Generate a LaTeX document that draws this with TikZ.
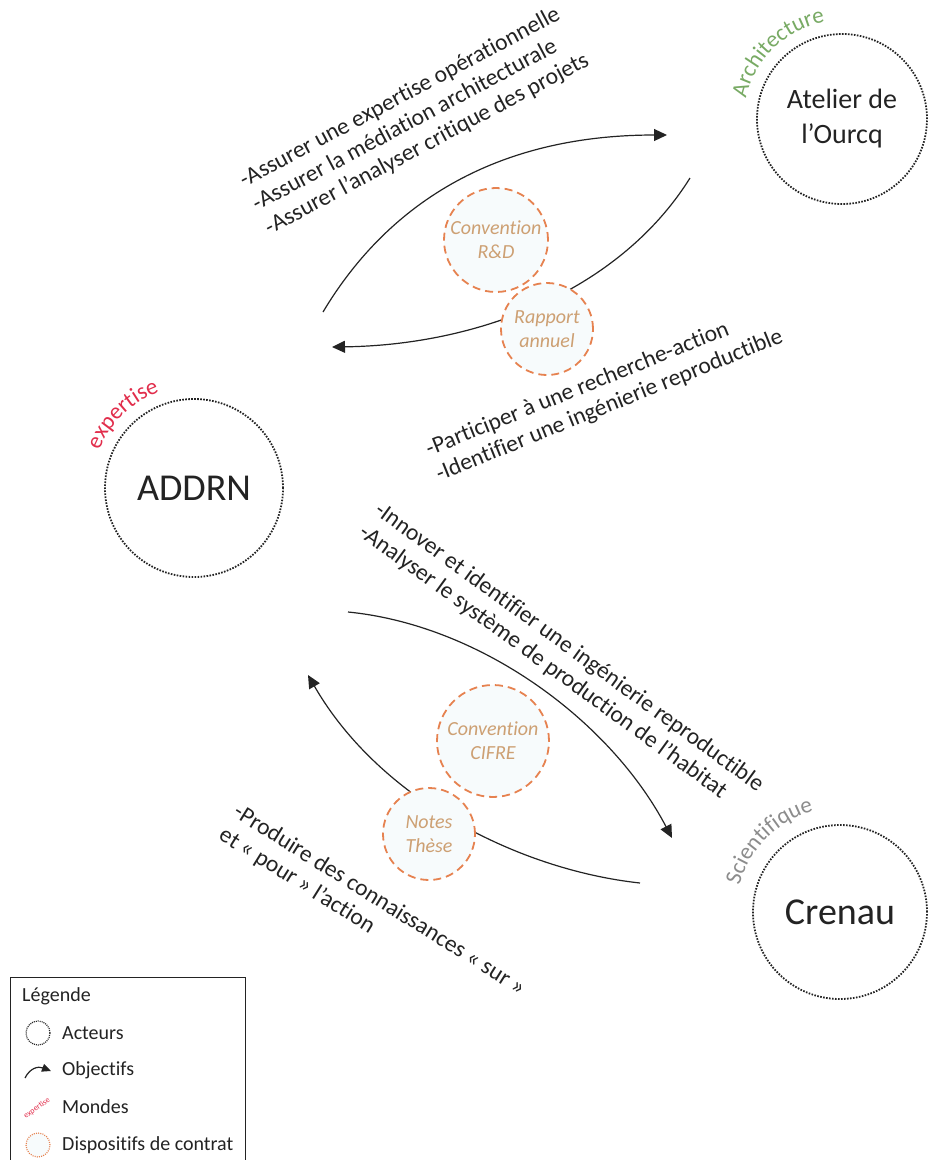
\documentclass[tikz,border=0pt]{standalone}
\usepackage{fontspec}
\setmainfont{Carlito}[Ligatures={NoCommon,NoContextual}]
\usepackage{tikz}
\usetikzlibrary{arrows.meta,decorations.text}
\definecolor{inkdark}{RGB}{35,35,35}
\definecolor{archgreen}{RGB}{120,170,100}
\definecolor{expred}{RGB}{225,45,75}
\definecolor{scigrey}{RGB}{140,140,140}
\definecolor{dispoorange}{RGB}{230,130,80}
\definecolor{dispotext}{RGB}{205,160,115}
\definecolor{dispofill}{RGB}{247,251,252}
\tikzset{
  base/.style={text=inkdark, inner sep=0pt},
  acteur/.style={base, circle, draw=inkdark, line width=1.8pt, dash pattern=on 1.6pt off 1.4pt, align=center},
  dispo/.style={base, circle, draw=dispoorange, fill=dispofill, line width=1.8pt, dash pattern=on 8pt off 5pt, align=center, text=dispotext, font=\fontsize{20}{24}\selectfont\itshape},
  obj/.style={base, align=left, anchor=west, font=\fontsize{23.5}{27}\selectfont},
  arr/.style={-{Triangle[length=13pt,width=12pt]}, line width=1.2pt, draw=inkdark},
  monde/.style n args={2}{decorate, decoration={text along path, text align=center, text color=#1, text={|\fontsize{23}{23}\selectfont|#2}}},
  lgd/.style={base, anchor=west, font=\fontsize{20}{22}\selectfont},
}

\begin{document}
\begin{tikzpicture}[x=1pt,y=1pt]
  \useasboundingbox (0,0) rectangle (927,-1160);

  \node[acteur, minimum size=170pt, font=\fontsize{28}{35}\selectfont] (ourcq) at (842,-119) {Atelier de\\l’Ourcq};
  \node[acteur, minimum size=178pt, font=\fontsize{38}{40}\selectfont] (addrn) at (194,-488) {ADDRN};
  \node[acteur, minimum size=174pt, font=\fontsize{38}{40}\selectfont] (crenau) at (840,-912) {Crenau};

  \path[monde={archgreen}{Architecture}] ([shift={(ourcq.center)}]192:98) arc[start angle=192, end angle=76, radius=98];
  \path[monde={expred}{expertise}] ([shift={(addrn.center)}]190:102) arc[start angle=190, end angle=78, radius=102];
  \path[monde={scigrey}{Scientifique}] ([shift={(crenau.center)}]192:104) arc[start angle=192, end angle=78, radius=104];

  \coordinate (toourcq0) at (323,-312);
  \coordinate (toourcq1) at (667,-135);
  \coordinate (fromourcq0) at (690,-178);
  \coordinate (fromourcq1) at (332,-347);
  \coordinate (tocrenau0) at (348,-612);
  \coordinate (tocrenau1) at (672,-838);
  \coordinate (fromcrenau0) at (640,-883);
  \coordinate (fromcrenau1) at (308,-675);
  \draw[arr] (toourcq0) .. controls (390,-200) and (500,-135) .. (toourcq1);
  \draw[arr] (fromourcq0) .. controls (620,-290) and (480,-345) .. (fromourcq1);
  \draw[arr] (tocrenau0) .. controls (480,-625) and (610,-720) .. (tocrenau1);
  \draw[arr] (fromcrenau0) .. controls (520,-870) and (380,-800) .. (fromcrenau1);

  \node[dispo, minimum size=104pt] (convrd) at (496,-240) {Convention\\R\&D};
  \node[dispo, minimum size=92pt] (rapport) at (547,-329) {Rapport\\annuel};
  \node[dispo, minimum size=112pt] (cifre) at (493,-741) {Convention\\CIFRE};
  \node[dispo, minimum size=92pt] (notes) at (429,-834) {Notes\\Thèse};

  \node[obj, rotate=28] (objourcq) at (254,-206) {-Assurer une expertise opérationnelle\\-Assurer la médiation architecturale\\-Assurer l’analyser critique des projets};
  \node[obj, rotate=22] (objaddrn1) at (432,-463) {-Participer à une recherche-action\\-Identifier une ingénierie reproductible};
  \node[obj, rotate=-36] (objcrenau) at (369,-519) {-Innover et identifier une ingénierie reproductible\\-Analyser le système de production de l’habitat};
  \node[obj, rotate=-32] (objaddrn2) at (228,-822) {-Produire des connaissances « sur »\\et « pour » l’action};

  \draw[line width=0.8pt, draw=inkdark] (10,-977) rectangle (245,-1170);
  \node[lgd] (lgdtitle) at (22,-996) {Légende};
  \node[acteur, minimum size=24pt, line width=1.2pt, dash pattern=on 1pt off 1pt] (lgdact) at (38,-1033) {};
  \node[lgd] (lgdacttxt) at (62,-1033) {Acteurs};
  \coordinate (lgdobj0) at (25,-1078);
  \coordinate (lgdobj1) at (51,-1071);
  \draw[arr, -{Triangle[length=9pt,width=8pt]}] (lgdobj0) .. controls (30,-1068) and (38,-1066) .. (lgdobj1);
  \node[lgd] (lgdobjtxt) at (62,-1070) {Objectifs};
  \node[base, text=expred, rotate=35, font=\fontsize{8}{8}\selectfont] (lgdmonde) at (37,-1108) {expertise};
  \node[lgd] (lgdmondetxt) at (62,-1107) {Mondes};
  \node[dispo, minimum size=24pt, line width=1.2pt, dash pattern=on 1pt off 1.2pt] (lgddispo) at (38,-1145) {};
  \node[lgd] (lgddispotxt) at (62,-1145) {Dispositifs de contrat};
\end{tikzpicture}
\end{document}
